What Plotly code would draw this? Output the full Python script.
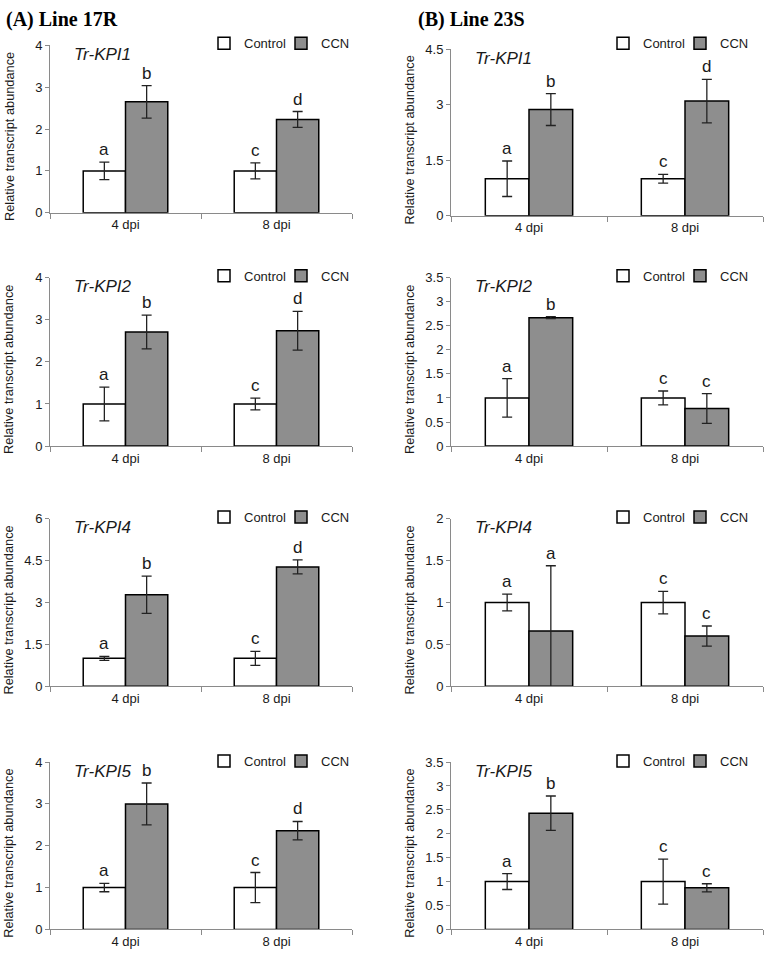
import plotly.graph_objects as go

# ---------------- data ----------------
categories = ["4 dpi", "8 dpi"]
genes = ["Tr-KPI1", "Tr-KPI2", "Tr-KPI4", "Tr-KPI5"]
series_names = ["Control", "CCN"]

# (A) Line 17R
ctrl_A = [[1.0, 1.0], [1.0, 1.0], [1.0, 1.0], [1.0, 1.0]]
ctrl_err_A = [[0.21, 0.19], [0.40, 0.14], [0.07, 0.25], [0.10, 0.36]]
ccn_A = [[2.65, 2.23], [2.71, 2.74], [3.28, 4.28], [3.00, 2.36]]
ccn_err_A = [[0.39, 0.19], [0.40, 0.46], [0.67, 0.25], [0.50, 0.22]]
letters_A = [
    [["a", "b"], ["c", "d"]],
    [["a", "b"], ["c", "d"]],
    [["a", "b"], ["c", "d"]],
    [["a", "b"], ["c", "d"]],
]
ymax_A = [4, 4, 6, 4]
ytick_A = [1, 1, 1.5, 1]

# (B) Line 23S
ctrl_B = [[1.0, 1.0], [1.0, 1.0], [1.0, 1.0], [1.0, 1.0]]
ctrl_err_B = [[0.48, 0.12], [0.40, 0.145], [0.10, 0.135], [0.165, 0.47]]
ccn_B = [[2.87, 3.10], [2.67, 0.78], [0.66, 0.60], [2.43, 0.87]]
ccn_err_B = [[0.43, 0.59], [0.02, 0.31], [0.78, 0.12], [0.36, 0.085]]
letters_B = [
    [["a", "b"], ["c", "d"]],
    [["a", "b"], ["c", "c"]],
    [["a", "a"], ["c", "c"]],
    [["a", "b"], ["c", "c"]],
]
ymax_B = [4.5, 3.5, 2, 3.5]
ytick_B = [1.5, 0.5, 0.5, 0.5]

panel_titles = ["(A) Line 17R", "(B) Line 23S"]
y_title = "Relative transcript abundance"

# ---------------- layout geometry ----------------
W, H = 766, 964
xdom_px = [(50, 352), (451, 763)]
ydom_px = [
    [(39, 209), (43, 212)],
    [(275, 446), (275, 446)],
    [(520, 690), (520, 690)],
    [(767, 937), (767, 937)],
]
legend_y_px = [37, 273, 518, 766]
legend_left_px = [204, 603]
ytitle_x_px = [9, 410]
title_x_px = [4, 416]

BARGAP = 0.44
CTRL_COLOR = "white"
CCN_COLOR = "#8e8e8e"
AXIS_COLOR = "#8a8a8a"
TEXT_COLOR = "#1a1a1a"
SANS = "Liberation Sans, Arial, sans-serif"
SERIF = "Liberation Serif, Times New Roman, serif"

fig = go.Figure()
layout = dict(
    width=W, height=H,
    margin=dict(l=0, r=0, t=0, b=0),
    paper_bgcolor="white", plot_bgcolor="white",
    barmode="group", bargap=BARGAP, bargroupgap=0,
    font=dict(family=SANS, size=13, color=TEXT_COLOR),
    showlegend=True,
)
annotations = []

data_cols = [
    (ctrl_A, ctrl_err_A, ccn_A, ccn_err_A, letters_A, ymax_A, ytick_A),
    (ctrl_B, ctrl_err_B, ccn_B, ccn_err_B, letters_B, ymax_B, ytick_B),
]

half_w = (1 - BARGAP) / 4.0

for r in range(4):
    for c in range(2):
        n = r * 2 + c + 1
        ctrl, ctrl_err, ccn, ccn_err, letters, ymax_l, ytick_l = data_cols[c]
        ymax = ymax_l[r]
        ytick = ytick_l[r]
        xa = "x" if n == 1 else f"x{n}"
        ya = "y" if n == 1 else f"y{n}"
        lg = "legend" if n == 1 else f"legend{n}"

        vals = [ctrl[r], ccn[r]]
        errs = [ctrl_err[r], ccn_err[r]]
        colors = [CTRL_COLOR, CCN_COLOR]
        for s in range(2):
            fig.add_trace(go.Bar(
                x=categories, y=vals[s], name=series_names[s],
                xaxis=xa, yaxis=ya, legend=lg, showlegend=True,
                marker=dict(color=colors[s], line=dict(color="black", width=1.5)),
                error_y=dict(type="data", array=errs[s], visible=True,
                             color="#222222", thickness=1.3, width=5),
                hoverinfo="skip",
            ))
            for i in range(2):
                off = -half_w if s == 0 else half_w
                annotations.append(dict(
                    x=i + off, y=vals[s][i] + errs[s][i],
                    xref=xa, yref=ya, text=letters[r][i][s],
                    showarrow=False, yanchor="bottom", xanchor="center",
                    yshift=1, font=dict(size=17, family=SANS, color=TEXT_COLOR),
                ))

        x0, x1 = xdom_px[c]
        y0, y1 = ydom_px[r][c]
        ydom = [1 - y1 / H, 1 - y0 / H]
        layout["xaxis" if n == 1 else f"xaxis{n}"] = dict(
            domain=[x0 / W, x1 / W], anchor=ya, type="category",
            range=[-0.5, 1.5],
            showline=True, linecolor=AXIS_COLOR, linewidth=1,
            ticks="outside", tickson="boundaries", ticklen=5,
            tickcolor=AXIS_COLOR, showgrid=False, zeroline=False,
            tickfont=dict(size=13, family=SANS, color=TEXT_COLOR),
            fixedrange=True,
        )
        nt = int(round(ymax / ytick))
        tv = [round(k * ytick, 3) for k in range(nt + 1)]
        layout["yaxis" if n == 1 else f"yaxis{n}"] = dict(
            domain=ydom, anchor=xa, range=[0, ymax],
            tickvals=tv, ticktext=[("%g" % v) for v in tv],
            showline=True, linecolor=AXIS_COLOR, linewidth=1,
            ticks="outside", ticklen=4, tickcolor=AXIS_COLOR,
            showgrid=False, zeroline=False,
            tickfont=dict(size=13, family=SANS, color=TEXT_COLOR),
            fixedrange=True,
        )
        layout[lg] = dict(
            orientation="h", x=legend_left_px[c] / W, xanchor="left",
            y=1 - legend_y_px[r] / H, yanchor="middle",
            xref="paper", yref="paper", entrywidth=32,
            bgcolor="rgba(0,0,0,0)", font=dict(size=13, family=SANS, color=TEXT_COLOR),
            itemwidth=30, tracegroupgap=0, itemclick=False, itemdoubleclick=False,
        )
        # gene name
        annotations.append(dict(
            x=0, y=1, xref=f"{xa} domain", yref=f"{ya} domain",
            xshift=22, yshift=-9, xanchor="left", yanchor="middle",
            text=f"<i>{genes[r]}</i>", showarrow=False,
            font=dict(size=17, family=SANS, color=TEXT_COLOR),
        ))
        # y axis title
        annotations.append(dict(
            x=ytitle_x_px[c] / W, y=0.5, xref="paper", yref=f"{ya} domain",
            yshift=-8, xanchor="center", yanchor="middle", textangle=-90,
            text=y_title, showarrow=False,
            font=dict(size=12.8, family=SANS, color=TEXT_COLOR),
        ))

for c in range(2):
    annotations.append(dict(
        x=title_x_px[c] / W, y=1 - 13 / H, xref="paper", yref="paper",
        xanchor="left", yanchor="middle", text=f"<b>{panel_titles[c]}</b>",
        showarrow=False, font=dict(size=20, family=SERIF, color="black"),
    ))

layout["annotations"] = annotations
fig.update_layout(**layout)
fig.write_html("out.html", config={"displayModeBar": False},
               post_script="document.body.style.margin='0px';")
